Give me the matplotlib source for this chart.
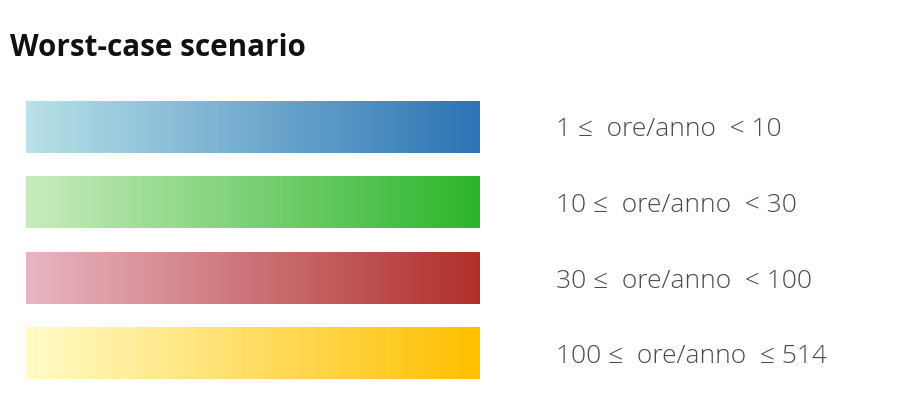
import matplotlib
matplotlib.use("Agg")
import matplotlib.pyplot as plt
import numpy as np
from matplotlib.colors import LinearSegmentedColormap

titolo = "Worst-case scenario"
etichette = ["1 \u2264  ore/anno  < 10",
             "10 \u2264  ore/anno  < 30",
             "30 \u2264  ore/anno  < 100",
             "100 \u2264  ore/anno  \u2264 514"]
colori_inizio = ["#b9e1e8", "#c9ecbe", "#e8b6c3", "#fffcc8"]
colori_fine = ["#2b74b4", "#2cb52b", "#b02f2a", "#ffbf00"]

plt.rcParams['font.family'] = ['Open Sans', 'DejaVu Sans']

fig = plt.figure(figsize=(9, 4.13), dpi=100)
ax = fig.add_axes([0, 0, 1, 1])
ax.set_xlim(0, 900)
ax.set_ylim(413, 0)
ax.axis("off")

gradiente = np.linspace(0, 1, 256).reshape(1, -1)
for i, (lab, c0, c1) in enumerate(zip(etichette, colori_inizio, colori_fine)):
    y0 = 101 + i * 75.5
    cmap = LinearSegmentedColormap.from_list("g%d" % i, [c0, c1])
    ax.imshow(gradiente, cmap=cmap, aspect="auto", extent=(26, 480, y0 + 52, y0),
              interpolation="bilinear")
    ax.text(556, y0 + 29, lab, fontsize=19, fontweight="light", color="#4a4a4a",
            va="center", ha="left")

ax.text(10, 48, titolo, fontsize=21.3, fontweight="bold", color="#111111",
        va="center", ha="left")

fig.savefig("out.png", dpi=100)
